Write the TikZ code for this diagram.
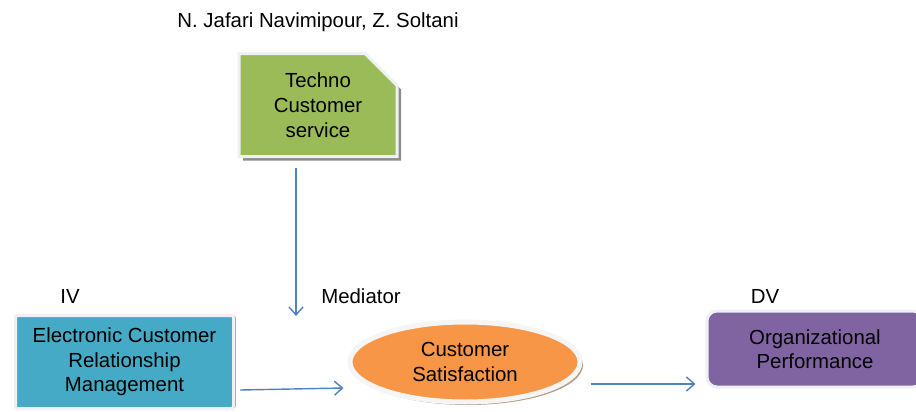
\documentclass[tikz,border=0pt]{standalone}
\usepackage{fontspec}
\setsansfont{Liberation Sans}
\usetikzlibrary{shapes.geometric,shapes.misc,shadows,arrows.meta}
\definecolor{boxgreen}{HTML}{9BBB59}
\definecolor{boxteal}{HTML}{45AAC6}
\definecolor{boxorange}{HTML}{F79646}
\definecolor{boxpurple}{HTML}{8064A2}
\definecolor{arrowblue}{HTML}{4F81BD}
\definecolor{rimgray}{HTML}{EEF0F3}

\begin{document}
\begin{tikzpicture}[x=0.5pt, y=-0.5pt, font=\sffamily\fontsize{10.2}{12.2}\selectfont,
  rim/.style={draw=rimgray, line width=1.5pt, align=center, inner sep=0pt},
  flow/.style={draw=arrowblue, line width=0.7pt, -{Straight Barb[length=4pt,width=7pt]}}]
  \useasboundingbox (0,0) rectangle (916,412);
  \clip (0,0) rectangle (916,412);

  \node (author) at (318,22) {N. Jafari Navimipour, Z. Soltani};

  \node[rim, fill=boxgreen, chamfered rectangle, chamfered rectangle corners=north east,
        chamfered rectangle xsep=8pt, chamfered rectangle ysep=8pt,
        minimum width=79pt, minimum height=51.5pt,
        drop shadow={shadow xshift=2pt, shadow yshift=-2pt, fill=black!45, opacity=1}]
    (techno) at (318,105) {Techno\\[0.3pt]Customer\\[0.3pt]service};

  % independent, mediator and dependent variables
  \node (iv) at (70,296) {IV};
  \node (mediator) at (361,296) {Mediator};
  \node (dv) at (765,296) {DV};

  \node[rim, fill=boxteal, rounded corners=1pt, minimum width=109pt, minimum height=46.5pt,
        drop shadow={shadow xshift=1pt, shadow yshift=0pt, fill=black!55, opacity=1}]
    (ecrm) at (124.5,362) {Electronic Customer\\Relationship\\Management};
  \node[ellipse, draw=white!92!gray, line width=2.5pt, fill=boxorange, align=center,
        minimum width=115pt, minimum height=40pt, inner sep=0pt,
        drop shadow={shadow xshift=1.5pt, shadow yshift=-1.5pt, fill=brown!70!black, opacity=0.6}]
    (satisf) at (465,362) {Customer\\Satisfaction};
  \node[rim, fill=boxpurple, rounded corners=5pt, minimum width=108pt, minimum height=38pt]
    (orgperf) at (815,349) {Organizational\\Performance};

  \coordinate (medin) at (296,316);
  \draw[flow, shorten <=5pt] (techno.south -| medin) -- (medin);
  \draw[flow] ([shift={(5,28)}]ecrm.east) -- ([shift={(-4,26)}]satisf.west);
  \draw[flow] ([shift={(8,22)}]satisf.east) -- ([shift={(-10,35)}]orgperf.west);
\end{tikzpicture}
\end{document}
